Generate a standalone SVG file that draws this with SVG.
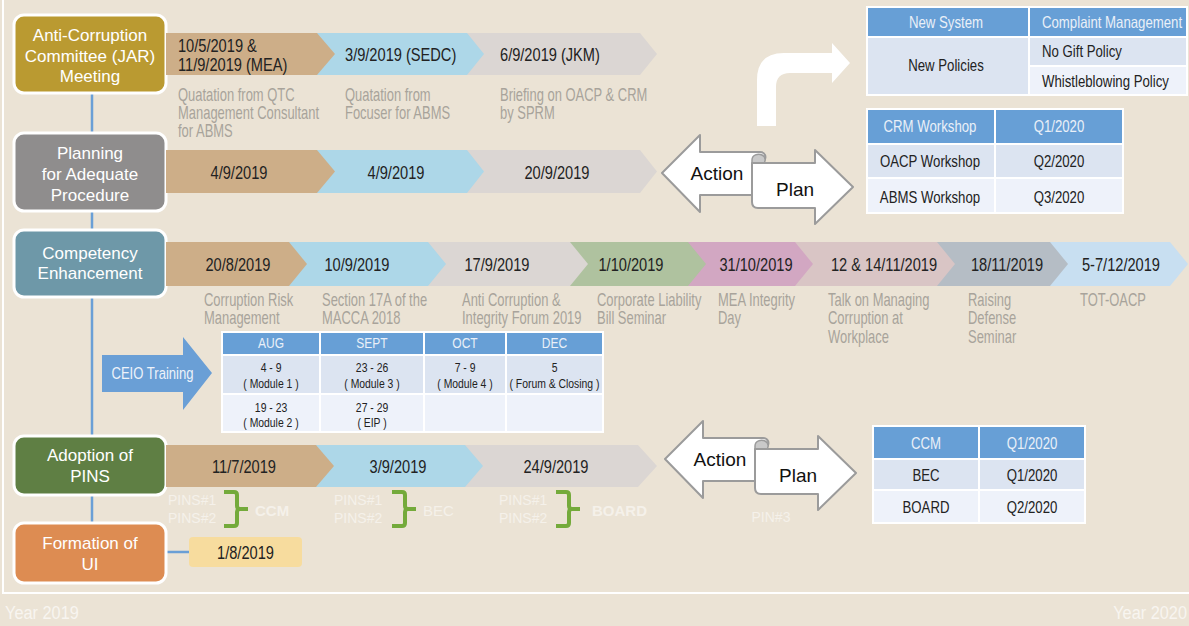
<svg xmlns="http://www.w3.org/2000/svg" xmlns:xlink="http://www.w3.org/1999/xlink" width="1189" height="626" viewBox="0 0 1189 626">
<style>
.nt{font-family:"Liberation Sans",Arial,sans-serif;font-size:17px;fill:#fff;text-anchor:middle}
.cd{font-family:"Liberation Sans Narrow","Liberation Sans",Arial,sans-serif;transform-box:fill-box;transform-origin:0 0}
.dt{font-size:19px;fill:#222;transform:scaleX(0.77)}
.st{font-size:18px;fill:#A8A39B;transform:scaleX(0.72)}
.tb{font-size:16.5px;fill:#222;transform:scaleX(0.8)}
.th{font-size:16.5px;fill:#EAF0F8;transform:scaleX(0.8)}
.ct{font-size:13.5px;fill:#222;text-anchor:middle;transform:scaleX(0.77)}
.ch{font-size:15px;fill:#EAF0F8;text-anchor:middle;transform:scaleX(0.8)}
.yr{font-size:19px;fill:#F8F5F0;transform:scaleX(0.86)}
.mid{text-anchor:middle;transform-origin:50% 0}
.end{text-anchor:end;transform-origin:100% 0}
.pn{font-family:"Liberation Sans",Arial,sans-serif;font-size:14px;fill:#F5F1EA}
.pb{font-family:"Liberation Sans",Arial,sans-serif;font-size:15px;font-weight:bold;fill:#F5F1EA}
.ap{font-family:"Liberation Sans",Arial,sans-serif;font-size:19px;fill:#111;text-anchor:middle}
.node{stroke:#fff;stroke-width:3}
.cell{stroke:#fff;stroke-width:2}
.hd{fill:#679FD6}
.r1{fill:#DCE4F1}
.r2{fill:#EEF2FA}
.tan{fill:#CDAE88}
.blu{fill:#ADD7E8}
.gry{fill:#DBD6D3}
.apl{fill:#fff;stroke:#9B9B9B;stroke-width:2;stroke-linejoin:round}
.brace{fill:none;stroke:#74AA3B;stroke-width:4;stroke-linejoin:round;stroke-linecap:square}
.conn{stroke:#6A9FD6;stroke-width:2.5;fill:none}
</style>
<defs>
<path id="brace" d="M0,0 H8 Q11,0 11,3 V14 Q11,17 14,17 H20 M14,17 Q11,17 11,20 V31 Q11,34 8,34 H0"/>
<g id="apShape">
<path class="apl" d="M662,173 L700,135 L700,152 L760,152 C765,152 767,157 764,161 L764,195 L700,195 L700,212 Z"/>
<path d="M752,160 C752,155 758,153 762,155 C766,157 766,162 763,164 L752,164 Z" fill="#C9C9C9" stroke="#9B9B9B" stroke-width="1.5"/>
<path class="apl" d="M752,163 L815,163 L815,150 L853,187 L815,224 L815,208 L758,208 C754,208 752,206 752,202 Z"/>
</g>
</defs>
<rect width="1189" height="626" fill="#EBE3D5"/>
<path d="M3,0 V593 H1189" fill="none" stroke="#fff" stroke-width="2"/>

<g id="connectors">
<line class="conn" x1="92" y1="92" x2="92" y2="523"/>
<line class="conn" x1="166" y1="552" x2="189" y2="552"/>
</g>

<g id="node-jar">
<rect class="node" x="14" y="15" width="152" height="78" rx="10" fill="#BA9A31"/>
<text class="nt" x="90" y="41">Anti-Corruption</text>
<text class="nt" x="90" y="61.5">Committee (JAR)</text>
<text class="nt" x="90" y="82">Meeting</text>
</g>
<g id="row-jar">
<polygon class="gry" points="467,33 640,33 657,54 640,75 467,75"/>
<polygon class="blu" points="317,33 467,33 484,54 467,75 317,75"/>
<polygon class="tan" points="166,33 317,33 335,54 317,75 166,75"/>
<text class="cd dt" x="178" y="52">10/5/2019 &amp;</text>
<text class="cd dt" x="178" y="71.5">11/9/2019 (MEA)</text>
<text class="cd dt" x="345" y="61">3/9/2019 (SEDC)</text>
<text class="cd dt" x="500" y="61">6/9/2019 (JKM)</text>
<text class="cd st" x="178" y="101.5">Quatation from QTC</text>
<text class="cd st" x="178" y="119.5">Management Consultant</text>
<text class="cd st" x="178" y="137.5">for ABMS</text>
<text class="cd st" x="345" y="101.5">Quatation from</text>
<text class="cd st" x="345" y="119.5">Focuser for ABMS</text>
<text class="cd st" x="500" y="101.5">Briefing on OACP &amp; CRM</text>
<text class="cd st" x="500" y="119.5">by SPRM</text>
</g>

<g id="curved-arrow">
<path d="M757,126 L757,80 Q757,53 784,53 L832,53 L832,43 L850,63 L832,83 L832,73 L790,73 Q776,73 776,87 L776,126 Z" fill="#fff"/>
</g>

<g id="table-policy">
<rect class="cell hd" x="867" y="7" width="162" height="30"/>
<rect class="cell hd" x="1029" y="7" width="158" height="30"/>
<rect class="cell r1" x="867" y="37" width="162" height="58"/>
<rect class="cell r1" x="1029" y="37" width="158" height="29"/>
<rect class="cell r2" x="1029" y="66" width="158" height="29"/>
<text class="cd th mid" x="946" y="28">New System</text>
<text class="cd th" x="1042" y="28">Complaint Management</text>
<text class="cd tb mid" x="946" y="71">New Policies</text>
<text class="cd tb" x="1042" y="57">No Gift Policy</text>
<text class="cd tb" x="1042" y="87">Whistleblowing Policy</text>
</g>

<g id="node-planning">
<rect class="node" x="14" y="133" width="152" height="78" rx="10" fill="#8F8D8D"/>
<text class="nt" x="90" y="159">Planning</text>
<text class="nt" x="90" y="180">for Adequate</text>
<text class="nt" x="90" y="201">Procedure</text>
</g>
<g id="row-planning">
<polygon class="gry" points="467,150 640,150 657,171.5 640,193 467,193"/>
<polygon class="blu" points="317,150 467,150 484,171.5 467,193 317,193"/>
<polygon class="tan" points="166,150 317,150 335,171.5 317,193 166,193"/>
<text class="cd dt mid" x="239" y="179">4/9/2019</text>
<text class="cd dt mid" x="396" y="179">4/9/2019</text>
<text class="cd dt mid" x="557" y="179">20/9/2019</text>
</g>

<g id="action-plan-1">
<use href="#apShape" xlink:href="#apShape"/>
<text class="ap" x="717" y="180">Action</text>
<text class="ap" x="795" y="196">Plan</text>
</g>

<g id="table-workshop">
<rect class="cell hd" x="867" y="109" width="128" height="35"/>
<rect class="cell hd" x="995" y="109" width="128" height="35"/>
<rect class="cell r1" x="867" y="144" width="128" height="34"/>
<rect class="cell r1" x="995" y="144" width="128" height="34"/>
<rect class="cell r2" x="867" y="178" width="128" height="35"/>
<rect class="cell r2" x="995" y="178" width="128" height="35"/>
<text class="cd th mid" x="930" y="132.5">CRM Workshop</text>
<text class="cd th mid" x="1059" y="132.5">Q1/2020</text>
<text class="cd tb mid" x="930" y="167.5">OACP Workshop</text>
<text class="cd tb mid" x="1059" y="167.5">Q2/2020</text>
<text class="cd tb mid" x="930" y="203">ABMS Workshop</text>
<text class="cd tb mid" x="1059" y="203">Q3/2020</text>
</g>

<g id="node-competency">
<rect class="node" x="14" y="230" width="152" height="67" rx="10" fill="#6E98A8"/>
<text class="nt" x="90" y="259">Competency</text>
<text class="nt" x="90" y="279">Enhancement</text>
</g>
<g id="row-competency">
<polygon fill="#C8DFF1" points="1050,242 1170,242 1188,264 1170,286 1050,286"/>
<polygon fill="#B5BDC5" points="937,242 1050,242 1068,264 1050,286 937,286"/>
<polygon fill="#D9C5C5" points="795,242 937,242 955,264 937,286 795,286"/>
<polygon fill="#D2A7C2" points="688,242 795,242 813,264 795,286 688,286"/>
<polygon fill="#AFC29F" points="570,242 688,242 706,264 688,286 570,286"/>
<polygon class="gry" points="428,242 570,242 588,264 570,286 428,286"/>
<polygon class="blu" points="289,242 428,242 446,264 428,286 289,286"/>
<polygon class="tan" points="166,242 289,242 307,264 289,286 166,286"/>
<text class="cd dt mid" x="238" y="271">20/8/2019</text>
<text class="cd dt mid" x="357" y="271">10/9/2019</text>
<text class="cd dt mid" x="497" y="271">17/9/2019</text>
<text class="cd dt mid" x="631" y="271">1/10/2019</text>
<text class="cd dt mid" x="756" y="271">31/10/2019</text>
<text class="cd dt mid" x="884" y="271">12 &amp; 14/11/2019</text>
<text class="cd dt mid" x="1007" y="271">18/11/2019</text>
<text class="cd dt mid" x="1121" y="271">5-7/12/2019</text>
<text class="cd st" x="204" y="306.5">Corruption Risk</text>
<text class="cd st" x="204" y="324.5">Management</text>
<text class="cd st" x="322" y="306.5">Section 17A of the</text>
<text class="cd st" x="322" y="324.5">MACCA 2018</text>
<text class="cd st" x="462" y="306.5">Anti Corruption &amp;</text>
<text class="cd st" x="462" y="324.5">Integrity Forum 2019</text>
<text class="cd st" x="597" y="306.5">Corporate Liability</text>
<text class="cd st" x="597" y="324.5">Bill Seminar</text>
<text class="cd st" x="718" y="306.5">MEA Integrity</text>
<text class="cd st" x="718" y="324.5">Day</text>
<text class="cd st" x="828" y="306.5">Talk on Managing</text>
<text class="cd st" x="828" y="324.5">Corruption at</text>
<text class="cd st" x="828" y="343.5">Workplace</text>
<text class="cd st" x="968" y="306.5">Raising</text>
<text class="cd st" x="968" y="324.5">Defense</text>
<text class="cd st" x="968" y="343.5">Seminar</text>
<text class="cd st" x="1080" y="306.5">TOT-OACP</text>
</g>

<g id="ceio-training">
<path d="M102,355 L183,355 L183,337 L212,373 L183,410 L183,392 L102,392 Z" fill="#6A9FD6"/>
<text class="cd mid" x="152.5" y="379" style="font-size:17px;fill:#EEF3FA;transform:scaleX(0.77)">CEIO Training</text>
</g>

<g id="table-ceio">
<rect class="cell hd" x="222" y="332" width="98" height="23"/>
<rect class="cell hd" x="320" y="332" width="104" height="23"/>
<rect class="cell hd" x="424" y="332" width="82" height="23"/>
<rect class="cell hd" x="506" y="332" width="97" height="23"/>
<rect class="cell r1" x="222" y="355" width="98" height="39"/>
<rect class="cell r1" x="320" y="355" width="104" height="39"/>
<rect class="cell r1" x="424" y="355" width="82" height="39"/>
<rect class="cell r1" x="506" y="355" width="97" height="39"/>
<rect class="cell r2" x="222" y="394" width="98" height="38"/>
<rect class="cell r2" x="320" y="394" width="104" height="38"/>
<rect class="cell r2" x="424" y="394" width="82" height="38"/>
<rect class="cell r2" x="506" y="394" width="97" height="38"/>
<text class="cd ch mid" x="271" y="348.5">AUG</text>
<text class="cd ch mid" x="372" y="348.5">SEPT</text>
<text class="cd ch mid" x="465" y="348.5">OCT</text>
<text class="cd ch mid" x="554.5" y="348.5">DEC</text>
<text class="cd ct mid" x="271" y="372.5">4 - 9</text>
<text class="cd ct mid" x="271" y="388">( Module 1 )</text>
<text class="cd ct mid" x="372" y="372.5">23 - 26</text>
<text class="cd ct mid" x="372" y="388">( Module 3 )</text>
<text class="cd ct mid" x="465" y="372.5">7 - 9</text>
<text class="cd ct mid" x="465" y="388">( Module 4 )</text>
<text class="cd ct mid" x="554.5" y="372.5">5</text>
<text class="cd ct mid" x="554.5" y="388">( Forum &amp; Closing )</text>
<text class="cd ct mid" x="271" y="412">19 - 23</text>
<text class="cd ct mid" x="271" y="427">( Module 2 )</text>
<text class="cd ct mid" x="372" y="412">27 - 29</text>
<text class="cd ct mid" x="372" y="427">( EIP )</text>
</g>

<g id="node-pins">
<rect class="node" x="14" y="436" width="152" height="59" rx="10" fill="#5F7F44"/>
<text class="nt" x="90" y="461">Adoption of</text>
<text class="nt" x="90" y="482">PINS</text>
</g>
<g id="row-pins">
<polygon class="gry" points="465,445 638,445 657,466 638,487 465,487"/>
<polygon class="blu" points="316,445 465,445 483,466 465,487 316,487"/>
<polygon class="tan" points="166,445 316,445 334,466 316,487 166,487"/>
<text class="cd dt mid" x="244" y="473">11/7/2019</text>
<text class="cd dt mid" x="398" y="473">3/9/2019</text>
<text class="cd dt mid" x="556" y="473">24/9/2019</text>
<text class="pn" x="168" y="505">PINS#1</text>
<text class="pn" x="168" y="523">PINS#2</text>
<use href="#brace" xlink:href="#brace" class="brace" transform="translate(226,492)"/>
<text class="pb" x="255" y="516">CCM</text>
<text class="pn" x="334" y="505">PINS#1</text>
<text class="pn" x="334" y="523">PINS#2</text>
<use href="#brace" xlink:href="#brace" class="brace" transform="translate(394,492)"/>
<text class="pn" x="423" y="516" style="font-size:15px">BEC</text>
<text class="pn" x="499" y="505">PINS#1</text>
<text class="pn" x="499" y="523">PINS#2</text>
<use href="#brace" xlink:href="#brace" class="brace" transform="translate(558,492)"/>
<text class="pb" x="592" y="516">BOARD</text>
</g>

<g id="action-plan-2">
<use href="#apShape" xlink:href="#apShape" transform="translate(3,286)"/>
<text class="ap" x="720" y="466">Action</text>
<text class="ap" x="798" y="482">Plan</text>
<text class="pn" x="771" y="522" text-anchor="middle">PIN#3</text>
</g>

<g id="table-pins">
<rect class="cell hd" x="873" y="426" width="106" height="33"/>
<rect class="cell hd" x="979" y="426" width="106" height="33"/>
<rect class="cell r1" x="873" y="459" width="106" height="31"/>
<rect class="cell r1" x="979" y="459" width="106" height="31"/>
<rect class="cell r2" x="873" y="490" width="106" height="33"/>
<rect class="cell r2" x="979" y="490" width="106" height="33"/>
<text class="cd th mid" x="926" y="449">CCM</text>
<text class="cd th mid" x="1032" y="449">Q1/2020</text>
<text class="cd tb mid" x="926" y="481">BEC</text>
<text class="cd tb mid" x="1032" y="481">Q1/2020</text>
<text class="cd tb mid" x="926" y="513">BOARD</text>
<text class="cd tb mid" x="1032" y="513">Q2/2020</text>
</g>

<g id="node-ui">
<rect class="node" x="14" y="523" width="152" height="60" rx="10" fill="#DD8C52"/>
<text class="nt" x="90" y="549">Formation of</text>
<text class="nt" x="90" y="570">UI</text>
</g>
<g id="date-ui">
<rect x="189" y="537" width="113" height="30" rx="4" fill="#F7DC9E"/>
<text class="cd dt mid" x="245.5" y="559">1/8/2019</text>
</g>

<g id="footer">
<text class="cd yr" x="5" y="619">Year 2019</text>
<text class="cd yr end" x="1187" y="619">Year 2020</text>
</g>
</svg>
